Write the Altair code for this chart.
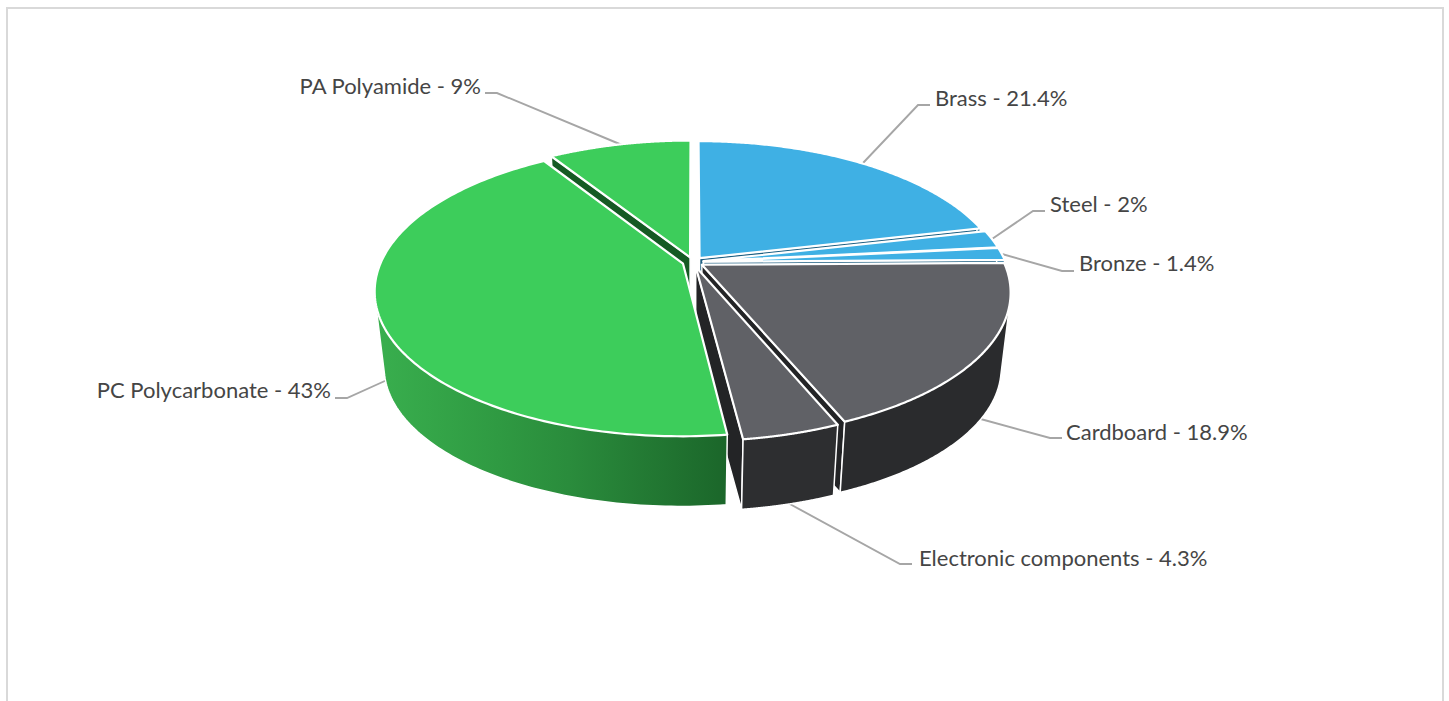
import numpy as np
import pandas as pd
import altair as alt

# Material shares, clockwise from twelve o'clock
categories = ["Brass", "Steel", "Bronze", "Cardboard", "Electronic components",
              "PC Polycarbonate", "PA Polyamide"]
shares = [21.4, 2, 1.4, 18.9, 4.3, 43, 9]

# Leader lines (rim, elbow, end) and label anchors on the page
leader_paths = [
    [(863, 163), (918, 105), (930, 105)],
    [(992, 239), (1033, 211), (1045, 211)],
    [(1002, 254), (1062, 271), (1074, 271)],
    [(977, 418), (1050, 438), (1062, 438)],
    [(788, 503), (900, 564), (912, 564)],
    [(387, 380), (347, 398), (335, 398)],
    [(622, 145), (497, 93), (485, 93)],
]
label_x = [935, 1050, 1079, 1066, 919, 331, 481]
label_y = [99, 205, 264, 433, 559, 391, 87]
label_align = ["left", "left", "left", "left", "left", "right", "right"]

# Fill colours per slice: top face, wall, cut face
top_fill = ["#3FB0E4", "#3FB0E4", "#3FB0E4", "#606166", "#606166", "#3DCD5B", "#3DCD5B"]
wall_fill = ["#1F6F99", "#1F6F99", "#1F6F99", "#2A2B2D", "#2D2E30", "#2F9A42", "#2F9A42"]
cut_fill = ["#1D5F82", "#1D5F82", "#1D5F82", "#232426", "#232426", "#155A24", "#155A24"]

PAGE_W, PAGE_H = 1449, 701
CX = 693.0
EXPLODE = 0.035
TILT = 0.185
TOP_FACE = dict(cy=262.0, rx=302.0, ry=140.0)
BOTTOM_FACE = dict(cy=339.0, rx=293.0, ry=134.5)


def to_page(u, v, face):
    """Perspective mapping of a point on the unit disc to page coordinates."""
    w = 1 + TILT * v
    return [float(CX + face["rx"] * u / w), float(face["cy"] - face["ry"] * v / w)]


def rim(cu, cv, angles, face):
    return [to_page(cu + np.sin(a), cv + np.cos(a), face) for a in angles]


def hull(points):
    """Convex outline of the points, so a wall keeps straight tangent sides."""
    pts = sorted(map(tuple, points))

    def half(seq):
        out = []
        for p in seq:
            while len(out) > 1 and ((out[-1][0] - out[-2][0]) * (p[1] - out[-2][1])
                                    - (out[-1][1] - out[-2][1]) * (p[0] - out[-2][0])) <= 0:
                out.pop()
            out.append(p)
        return out[:-1]

    return [list(p) for p in half(pts) + half(pts[::-1])]


def shape(kind, coords):
    if kind == "Polygon":
        coords = [coords + [coords[0]]]
    return {"type": "Feature", "properties": {}, "geometry": {"type": kind, "coordinates": coords}}


def piece(feature, **mark):
    return alt.Chart(alt.Data(values=[feature])).mark_geoshape(**mark)


pc_wall = alt.LinearGradient(
    gradient="linear", x1=0, x2=1, y1=0, y2=0,
    stops=[
        alt.GradientStop(color="#39AF4E", offset=0),
        alt.GradientStop(color="#2F9A42", offset=0.35),
        alt.GradientStop(color="#2A8C3C", offset=0.55),
        alt.GradientStop(color="#1B662A", offset=1),
    ],
)

layers = []

# Chart frame, open at the page bottom
frame = [[7, PAGE_H + 4], [7, 8], [1443, 8], [1443, PAGE_H + 4]]
layers.append(piece(shape("LineString", frame), filled=False, stroke="#D9D9D9", strokeWidth=2))

for path in leader_paths:
    layers.append(piece(shape("LineString", [list(p) for p in path]),
                        filled=False, stroke="#A6A6A6", strokeWidth=1.9))

# Slice angular extents
total = sum(shares)
edges = np.radians(np.cumsum([0] + shares) / total * 360)
spans = {i: (edges[i], edges[i + 1]) for i in range(len(shares))}

# Paint from the back of the pie towards the viewer
paint_order = [6, 0, 1, 2, 3, 4, 5]
for i in paint_order:
    a0, a1 = spans[i]
    mid = (a0 + a1) / 2
    cu, cv = EXPLODE * np.sin(mid), EXPLODE * np.cos(mid)

    # Radial cut faces turned towards the viewer
    for ang, visible in ((a0, -np.sin(a0) > 1e-6), (a1, np.sin(a1) > 1e-6)):
        if visible:
            poly = [
                to_page(cu, cv, TOP_FACE),
                to_page(cu + np.sin(ang), cv + np.cos(ang), TOP_FACE),
                to_page(cu + np.sin(ang), cv + np.cos(ang), BOTTOM_FACE),
                to_page(cu, cv, BOTTOM_FACE),
            ]
            layers.append(piece(shape("Polygon", poly), fill=cut_fill[i], stroke="white",
                                strokeWidth=1.5, strokeJoin="round"))

    # Outer wall, front-facing part only
    angles = np.linspace(a0, a1, 160)
    angles = angles[np.cos(angles) < 0.25]
    if len(angles) > 1:
        poly = hull(rim(cu, cv, angles, TOP_FACE) + rim(cu, cv, angles, BOTTOM_FACE))
        fill = pc_wall if i == 5 else wall_fill[i]
        layers.append(piece(shape("Polygon", poly), fill=fill, stroke="white",
                            strokeWidth=1.5, strokeJoin="round"))

    # Top face
    angles = np.linspace(a0, a1, 160)
    poly = [to_page(cu, cv, TOP_FACE)] + rim(cu, cv, angles, TOP_FACE)
    layers.append(piece(shape("Polygon", poly), fill=top_fill[i], stroke="white",
                        strokeWidth=2.2, strokeJoin="round"))

labels = pd.DataFrame({
    "label": [f"{c} - {s}%" for c, s in zip(categories, shares)],
    "lon": label_x,
    "lat": label_y,
    "align": label_align,
})
for side in ("left", "right"):
    layers.append(
        alt.Chart(labels[labels["align"] == side])
        .mark_text(font="Lato", fontSize=22, color="#454545", align=side, baseline="middle")
        .encode(longitude="lon:Q", latitude="lat:Q", text="label:N")
    )

chart = (
    alt.layer(*layers)
    .project(type="identity", scale=1, translate=[0, 0])
    .properties(width=PAGE_W, height=PAGE_H, padding=0,
                autosize=alt.AutoSizeParams(type="none"), background="white")
    .configure_view(stroke=None)
)

chart.save("out.html", embed_options={"renderer": "svg", "actions": False})
